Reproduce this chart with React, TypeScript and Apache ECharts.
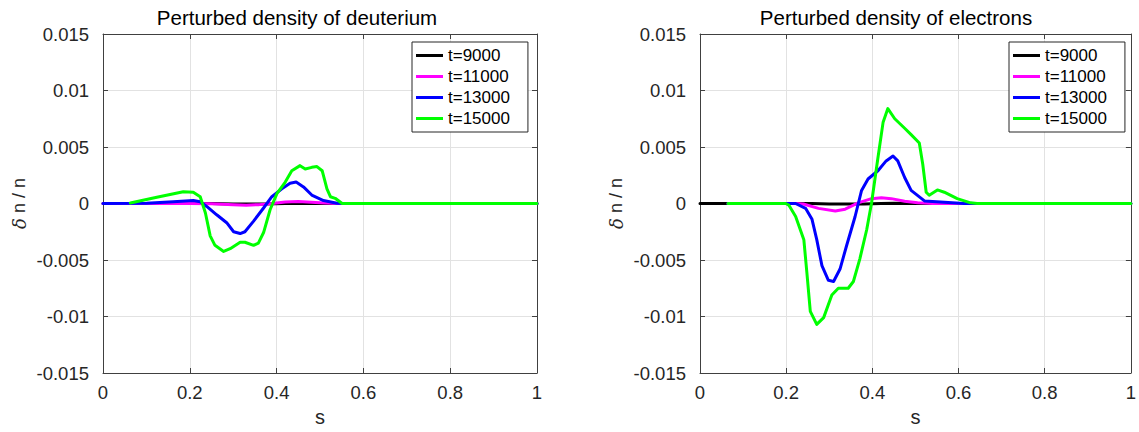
import React, { useEffect, useRef } from "react";
import * as echarts from "echarts";

// Series are [s, δn/n] pairs.
const seriesNames = ["t=9000", "t=11000", "t=13000", "t=15000"];
const seriesColors = ["#000000", "#ff00ff", "#0000ff", "#00ff00"];

const deuteriumT9000: [number, number][] = [
  [0, 0], [0.25, 0], [0.3, -0.00005], [0.37, -0.00005], [0.42, 0], [1, 0],
];
const deuteriumT11000: [number, number][] = [
  [0, 0], [0.2, 0], [0.25, -0.00003], [0.3, -0.00012], [0.33, -0.00015], [0.36, -0.0001],
  [0.39, 0], [0.42, 0.00013], [0.45, 0.00017], [0.48, 0.00012], [0.51, 0.00005], [0.54, 0], [1, 0],
];
const deuteriumT13000: [number, number][] = [
  [0, 0], [0.1, 0.00003], [0.162, 0.00015], [0.208, 0.00026], [0.224, 0.00015], [0.239, -0.00026],
  [0.262, -0.001], [0.285, -0.0017], [0.301, -0.0025], [0.316, -0.00266], [0.327, -0.0025],
  [0.347, -0.00156], [0.37, -0.0004], [0.389, 0.0006], [0.412, 0.0013], [0.431, 0.0018],
  [0.445, 0.0019], [0.462, 0.00147], [0.481, 0.00075], [0.508, 0.00026], [0.539, 0.00003],
  [0.56, 0], [1, 0],
];
const deuteriumT15000: [number, number][] = [
  [0.063, 0.00005], [0.124, 0.00055], [0.185, 0.00104], [0.208, 0.001], [0.224, 0.0006],
  [0.236, -0.00084], [0.247, -0.00286], [0.258, -0.0037], [0.278, -0.00424], [0.293, -0.004],
  [0.316, -0.00343], [0.327, -0.00343], [0.347, -0.0037], [0.358, -0.0035], [0.37, -0.00257],
  [0.385, -0.00055], [0.401, 0.00089], [0.42, 0.0019], [0.435, 0.0029], [0.454, 0.00335],
  [0.466, 0.00306], [0.481, 0.0032], [0.493, 0.00327], [0.505, 0.0029], [0.516, 0.0013],
  [0.524, 0.0006], [0.535, 0.00046], [0.551, 0], [1, 0],
];

const electronsT9000: [number, number][] = [
  [0, 0], [0.26, 0], [0.3, -0.00005], [0.38, -0.00005], [0.42, 0], [0.45, 0.00003], [0.5, 0], [1, 0],
];
const electronsT11000: [number, number][] = [
  [0.065, 0], [0.22, 0], [0.24, -0.00005], [0.275, -0.00043], [0.314, -0.00066], [0.337, -0.0005],
  [0.367, 0.00006], [0.398, 0.00043], [0.421, 0.0005], [0.444, 0.00043], [0.475, 0.0002],
  [0.505, 0.00006], [0.54, 0], [1, 0],
];
const electronsT13000: [number, number][] = [
  [0.065, 0], [0.222, 0], [0.245, -0.00043], [0.26, -0.0014], [0.271, -0.0032], [0.283, -0.0055],
  [0.298, -0.0068], [0.31, -0.0069], [0.325, -0.0058], [0.34, -0.00376], [0.36, -0.00115],
  [0.375, 0.00116], [0.39, 0.00217], [0.413, 0.0029], [0.432, 0.00377], [0.448, 0.0042],
  [0.459, 0.00377], [0.475, 0.0023], [0.49, 0.00116], [0.521, 0.00023], [0.567, 0.0001],
  [0.613, 0], [1, 0],
];
const electronsT15000: [number, number][] = [
  [0.065, 0], [0.199, 0], [0.206, -0.00014], [0.222, -0.00115], [0.241, -0.0032], [0.248, -0.0061],
  [0.256, -0.00955], [0.271, -0.0107], [0.287, -0.0101], [0.306, -0.0081], [0.321, -0.0075],
  [0.344, -0.0075], [0.356, -0.0069], [0.371, -0.0049], [0.387, -0.0023], [0.398, 0],
  [0.413, 0.00405], [0.425, 0.0072], [0.436, 0.0084], [0.452, 0.0075], [0.475, 0.00666],
  [0.49, 0.0061], [0.509, 0.00536], [0.517, 0.00347], [0.525, 0.001], [0.532, 0.00073],
  [0.551, 0.0012], [0.567, 0.001], [0.597, 0.00043], [0.628, 0.00006], [0.643, 0], [1, 0],
];

const xTickLabels = ["0", "0.2", "0.4", "0.6", "0.8", "1"];
const yTickLabels = ["-0.015", "-0.01", "-0.005", "0", "0.005", "0.01", "0.015"];
const panelTitles = ["Perturbed density of deuterium", "Perturbed density of electrons"];

const deuteriumSeries = [deuteriumT9000, deuteriumT11000, deuteriumT13000, deuteriumT15000];
const electronsSeries = [electronsT9000, electronsT11000, electronsT13000, electronsT15000];

const FONT = "'Liberation Sans', Arial, Helvetica, sans-serif";
const AXIS_COLOR = "#404040";
const TEXT_COLOR = "#262626";
const GRID_COLOR = "#e2e2e2";

const X_MIN = 0, X_MAX = 1, X_STEP = 0.2;
const Y_MIN = -0.015, Y_MAX = 0.015, Y_STEP = 0.005;

function xLabel(v: number) {
  const i = Math.round((v - X_MIN) / X_STEP);
  return xTickLabels[i] ?? "";
}
function yLabel(v: number) {
  const i = Math.round((v - Y_MIN) / Y_STEP);
  return yTickLabels[i] ?? "";
}

const panels = [
  { left: 103, top: 34, width: 434, height: 346, titleX: 297, legendLeft: 412, data: deuteriumSeries },
  { left: 700, top: 34, width: 435, height: 346, titleX: 896, legendLeft: 1009, data: electronsSeries },
];

export default function App() {
  const ref = useRef<HTMLDivElement>(null);

  useEffect(() => {
    if (!ref.current) return;
    const chart = echarts.init(ref.current, undefined, { renderer: "svg" });

    const grid: any[] = [];
    const xAxis: any[] = [];
    const yAxis: any[] = [];
    const series: any[] = [];
    const legend: any[] = [];
    const title: any[] = [];

    panels.forEach((p, k) => {
      grid.push({ left: p.left, top: p.top, width: p.width, height: p.height, containLabel: false });

      const tick = { show: true, inside: true, length: 5, lineStyle: { color: AXIS_COLOR, width: 1 } };
      const line = { show: true, onZero: false, lineStyle: { color: AXIS_COLOR, width: 1 } };

      // bottom x axis with labels and grid
      xAxis.push({
        type: "value", gridIndex: k, min: X_MIN, max: X_MAX, interval: X_STEP, position: "bottom",
        axisLine: line, axisTick: tick,
        axisLabel: { formatter: xLabel, color: TEXT_COLOR, fontSize: 18.5, fontFamily: FONT, margin: 10 },
        splitLine: { show: true, lineStyle: { color: GRID_COLOR, width: 1 } },
        name: "s", nameLocation: "middle", nameGap: 34,
        nameTextStyle: { color: TEXT_COLOR, fontSize: 20, fontFamily: FONT },
      });
      // top x axis, closing the box
      xAxis.push({
        type: "value", gridIndex: k, min: X_MIN, max: X_MAX, interval: X_STEP, position: "top",
        axisLine: line, axisTick: tick, axisLabel: { show: false }, splitLine: { show: false },
      });
      // left y axis with labels and grid
      yAxis.push({
        type: "value", gridIndex: k, min: Y_MIN, max: Y_MAX, interval: Y_STEP, position: "left",
        axisLine: line, axisTick: tick,
        axisLabel: { formatter: yLabel, color: TEXT_COLOR, fontSize: 18.5, fontFamily: FONT, margin: 14 },
        splitLine: { show: true, lineStyle: { color: GRID_COLOR, width: 1 } },
        name: "{d|δ} n / n", nameLocation: "middle", nameGap: 75, nameRotate: 90,
        nameTextStyle: {
          color: TEXT_COLOR, fontSize: 18, fontFamily: FONT,
          rich: { d: { fontStyle: "italic", fontSize: 18, fontFamily: "'DejaVu Serif', serif", color: TEXT_COLOR } },
        },
      });
      // right y axis, closing the box
      yAxis.push({
        type: "value", gridIndex: k, min: Y_MIN, max: Y_MAX, interval: Y_STEP, position: "right",
        axisLine: line, axisTick: tick, axisLabel: { show: false }, splitLine: { show: false },
      });

      p.data.forEach((d, i) => {
        series.push({
          type: "line", name: seriesNames[i], xAxisIndex: k * 2, yAxisIndex: k * 2, data: d,
          showSymbol: false, symbol: "none", color: seriesColors[i],
          lineStyle: { color: seriesColors[i], width: 3, join: "round", cap: "round" }, z: 3 + i,
        });
      });

      legend.push({
        orient: "vertical", left: p.legendLeft, top: 42,
        data: seriesNames, icon: "rect", itemWidth: 27, itemHeight: 3, itemGap: 4,
        padding: [5, 18, 5, 4],
        backgroundColor: "#ffffff", borderColor: "#262626", borderWidth: 1,
        textStyle: { color: "#000000", fontSize: 17, lineHeight: 17, fontFamily: FONT },
        selectedMode: false,
      });

      title.push({
        text: panelTitles[k], left: p.titleX, top: 7, textAlign: "center", padding: 0,
        textStyle: { color: "#000000", fontSize: 20.5, fontWeight: "normal", fontFamily: FONT },
      });
    });

    chart.setOption({
      animation: false,
      backgroundColor: "#ffffff",
      title, grid, xAxis, yAxis, series, legend,
    });

    return () => chart.dispose();
  }, []);

  return (
    <div
      ref={ref}
      style={{ position: "fixed", left: 0, top: 0, width: 1139, height: 432, background: "#fff" }}
    />
  );
}
